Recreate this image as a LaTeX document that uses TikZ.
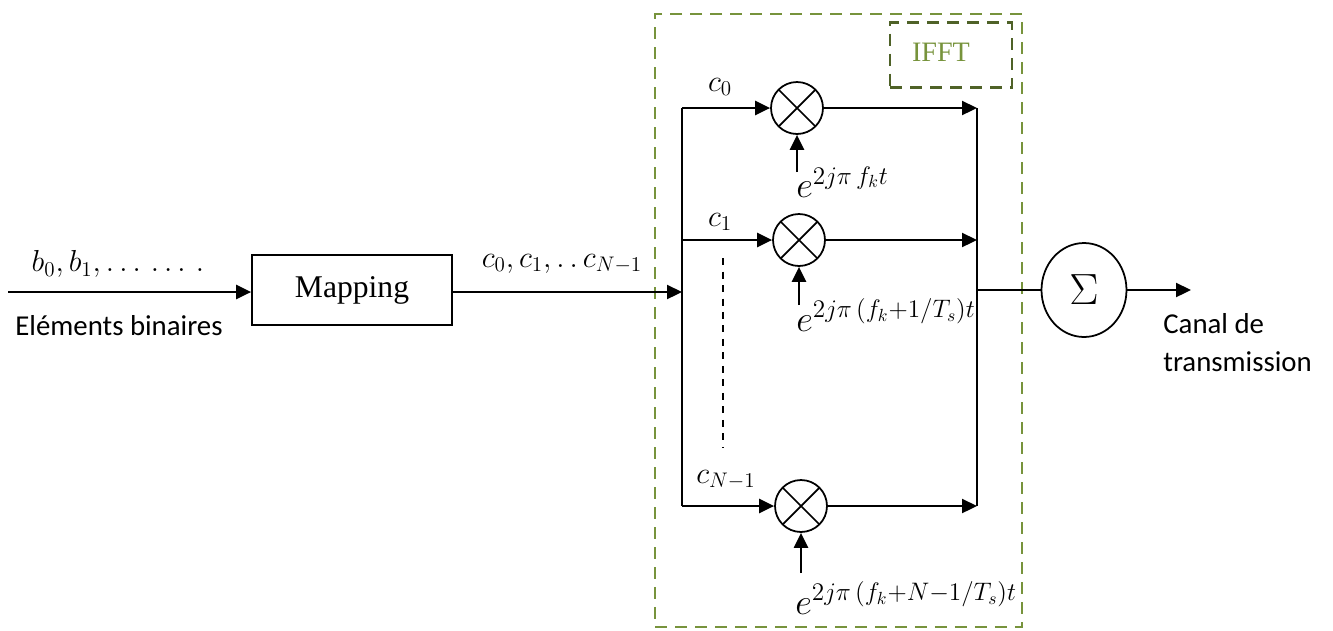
\documentclass[tikz,border=0pt]{standalone}
\usepackage{amsmath}
\usepackage{fontspec}
\setmainfont{Liberation Serif}
\newfontfamily\calfont{Carlito}
\usetikzlibrary{arrows.meta, positioning, calc, shapes.geometric}
\definecolor{ifftgreen}{HTML}{77933C}
\definecolor{ifftdark}{HTML}{4F6228}
\tikzset{
    block/.style={rectangle, draw, line width=1pt, minimum width=4cm, minimum height=1.4cm, font=\fontsize{18}{20}\selectfont},
    arrow/.style={line width=1.3pt, -{Triangle[length=0.3cm, width=0.28cm]}},
    wire/.style={line width=1.3pt},
    mult/.style={circle, draw, line width=1pt, minimum size=1.04cm, inner sep=0pt,
        path picture={\draw[line width=1pt] (path picture bounding box.north west) -- (path picture bounding box.south east)
                      (path picture bounding box.north east) -- (path picture bounding box.south west);}},
    summer/.style={ellipse, draw, line width=1pt, minimum width=1.7cm, minimum height=1.88cm, inner sep=0pt, font=\fontsize{24}{26}\selectfont},
    sig/.style={font=\fontsize{18}{20}\selectfont, inner sep=0pt},
    phase/.style={font=\fontsize{20}{22}\selectfont, inner sep=0pt, anchor=west},
    txt/.style={font=\calfont\fontsize{16.4}{21.6}\selectfont, inner sep=0pt, align=left},
    frame/.style={draw=ifftgreen, line width=1.3pt, dash pattern=on 0.24cm off 0.16cm},
    subframe/.style={draw=ifftdark, line width=1.3pt, dash pattern=on 0.24cm off 0.16cm}
}
\begin{document}
\begin{tikzpicture}[x=0.02cm, y=-0.02cm]
    \useasboundingbox (0,0) rectangle (1333,630);

    % IFFT frame
    \node[frame, minimum width=7.34cm, minimum height=12.26cm] (ifft) at (838.5,320.5) {};
    \node[subframe, minimum width=2.44cm, minimum height=1.3cm] (ifftbox) at (951,55) {};
    \node[inner sep=0pt, text=ifftgreen, font=\fontsize{16}{18}\selectfont] (iffttext) at (941,52) {IFFT};

    % input and mapping
    \node[block] (mapping) at (352,290) {Mapping};
    \coordinate (input) at (8,292);
    \coordinate (busin) at (682,292);
    \draw[arrow] (input) -- (input -| mapping.west);
    \draw[arrow] (mapping.east |- busin) -- (busin);
    \node[sig] (bits) at (118,264) {$b_0, b_1, \ldots\,\ldots\,.$};
    \node[txt] (bitlabel) at (119,326) {Eléments binaires};
    \node[sig] (symbols) at (562,264) {$c_0, c_1, .\,.\, c_{N-1}$};

    % multipliers
    \node[mult] (m0) at (797,108) {};
    \node[mult] (m1) at (799,240) {};
    \node[mult] (m2) at (801,506) {};

    % left bus
    \coordinate (l0) at (682,108);
    \coordinate (l1) at (682,240);
    \coordinate (l2) at (682,506);
    \draw[wire] (l0) -- (l2);
    \draw[arrow] (l0) -- (m0);
    \draw[arrow] (l1) -- (m1);
    \draw[arrow] (l2) -- (m2);
    \node[sig] (c0) at (720,87) {$c_0$};
    \node[sig] (c1) at (720,222) {$c_1$};
    \node[sig] (cn) at (726,480) {$c_{N-1}$};
    \coordinate (dtop) at (723,258);
    \coordinate (dbot) at (723,448);
    \draw[line width=1pt, dash pattern=on 0.14cm off 0.13cm] (dtop) -- (dbot);

    % right bus
    \coordinate (r0) at (977,108);
    \coordinate (r1) at (977,240);
    \coordinate (r2) at (977,506);
    \coordinate (rs) at (977,290);
    \draw[arrow] (m0) -- (r0);
    \draw[arrow] (m1) -- (r1);
    \draw[arrow] (m2) -- (r2);
    \draw[wire] (r0) -- (r2);

    % carriers
    \coordinate (p0) at (797,172);
    \coordinate (p1) at (799,305);
    \coordinate (p2) at (801,573);
    \draw[arrow] (p0) -- (m0);
    \draw[arrow] (p1) -- (m1);
    \draw[arrow] (p2) -- (m2);
    \node[phase] (e0) at (796,182) {$e^{2j\pi\, f_k t}$};
    \node[phase] (e1) at (796,315) {$e^{2j\pi\,(f_k+1/T_s)t}$};
    \node[phase] (e2) at (795,598) {$e^{2j\pi\,(f_k+N-1/T_s)t}$};

    % sum and output
    \node[summer] (sum) at (1084,290) {$\Sigma$};
    \coordinate (out) at (1191,290);
    \draw[wire] (rs) -- (sum);
    \draw[arrow] (sum) -- (out);
    \node[txt, anchor=north west] (channel) at (1163,313) {Canal de\\transmission};
\end{tikzpicture}
\end{document}
